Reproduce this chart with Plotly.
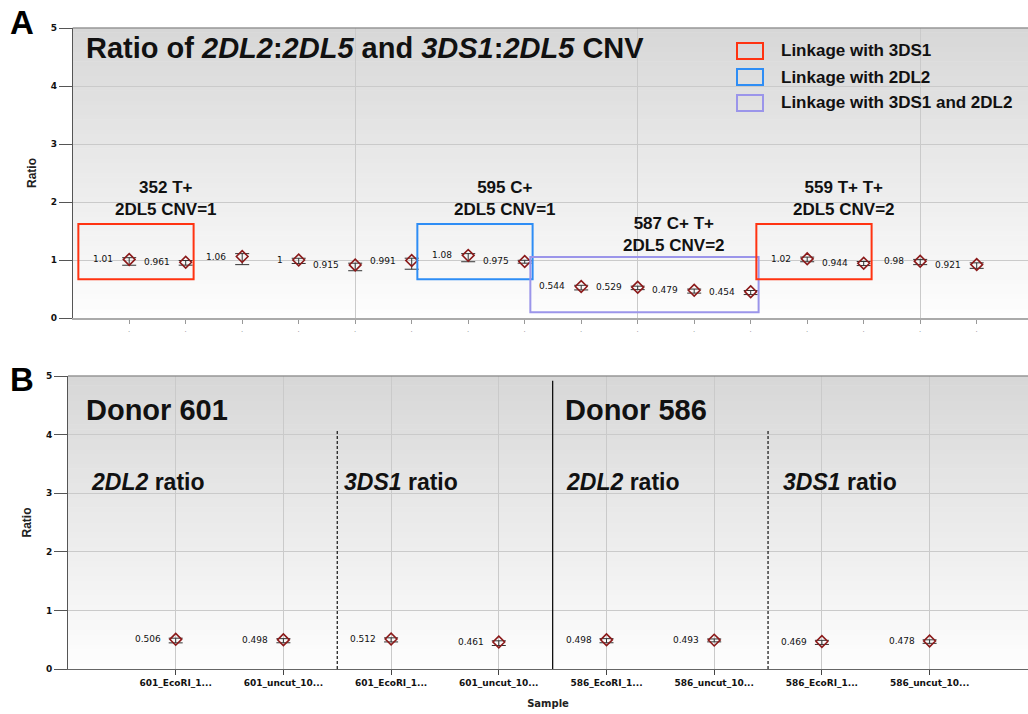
import plotly.graph_objects as go

# ---------------- data ----------------
# Panel A: ratio to 2DL5 for each sample (left to right)
ratio_a = [1.01, 0.961, 1.06, 1.0, 0.915, 0.991, 1.08, 0.975,
           0.544, 0.529, 0.479, 0.454, 1.02, 0.944, 0.98, 0.921]
err_hi_a = [0.03, 0.03, 0.05, 0.03, 0.03, 0.04, 0.03, 0.02,
            0.02, 0.02, 0.02, 0.02, 0.03, 0.03, 0.03, 0.03]
err_lo_a = [0.10, 0.05, 0.14, 0.06, 0.10, 0.15, 0.11, 0.03,
            0.06, 0.04, 0.05, 0.05, 0.05, 0.04, 0.06, 0.065]
label_a = ["1.01", "0.961", "1.06", "1", "0.915", "0.991", "1.08", "0.975",
           "0.544", "0.529", "0.479", "0.454", "1.02", "0.944", "0.98", "0.921"]

# Sample groups in panel A: (label, first sample, last sample, linkage)
groups_a = [
    ("352 T+<br>2DL5 CNV=1", 1, 2, "3DS1"),
    ("595 C+<br>2DL5 CNV=1", 7, 8, "2DL2"),
    ("587 C+ T+<br>2DL5 CNV=2", 9, 12, "both"),
    ("559 T+ T+<br>2DL5 CNV=2", 13, 14, "3DS1"),
]
legend_items = [("3DS1", "Linkage with 3DS1"),
                ("2DL2", "Linkage with 2DL2"),
                ("both", "Linkage with 3DS1 and 2DL2")]

# Panel B: two donors, EcoRI-digested vs uncut
samples_b = ["601_EcoRI_1...", "601_uncut_10...", "601_EcoRI_1...", "601_uncut_10...",
             "586_EcoRI_1...", "586_uncut_10...", "586_EcoRI_1...", "586_uncut_10..."]
ratio_b = [0.506, 0.498, 0.512, 0.461, 0.498, 0.493, 0.469, 0.478]
err_hi_b = [0.02, 0.02, 0.02, 0.02, 0.02, 0.02, 0.02, 0.02]
err_lo_b = [0.06, 0.05, 0.05, 0.06, 0.05, 0.03, 0.05, 0.04]
label_b = ["0.506", "0.498", "0.512", "0.461", "0.498", "0.493", "0.469", "0.478"]

donors_b = ["Donor 601", "Donor 586"]
ratio_titles_b = ["<i>2DL2</i> ratio", "<i>3DS1</i> ratio",
                  "<i>2DL2</i> ratio", "<i>3DS1</i> ratio"]

# ---------------- style ----------------
W, H = 1028, 714
FONT = "Liberation Sans"
SMALL = "DejaVu Sans"
MARKER_COL = "#8b1a1a"
BOX_COL = {"3DS1": "#ff3311", "2DL2": "#2e8df5", "both": "#9b95ea"}
GRID = "#cacaca"

pos_a = list(range(1, len(ratio_a) + 1))
pos_b = list(range(1, len(ratio_b) + 1))


def px_x(v):
    return v / W


def px_y(v):
    return 1 - v / H


fig = go.Figure()

marker = dict(symbol="diamond-open", size=9, color=MARKER_COL,
              line=dict(width=1.6, color=MARKER_COL))

fig.add_trace(go.Scatter(
    x=pos_a, y=ratio_a, mode="markers", xaxis="x", yaxis="y",
    marker=marker,
    error_y=dict(type="data", symmetric=False, array=err_hi_a, arrayminus=err_lo_a,
                 color="#333333", thickness=1, width=7),
    showlegend=False, hoverinfo="x+y"))

fig.add_trace(go.Scatter(
    x=pos_b, y=ratio_b, mode="markers", xaxis="x2", yaxis="y2",
    marker=marker,
    error_y=dict(type="data", symmetric=False, array=err_hi_b, arrayminus=err_lo_b,
                 color="#333333", thickness=1, width=7),
    showlegend=False, hoverinfo="x+y"))

annotations = []
shapes = []

# value labels beside each point
for x, y, t in zip(pos_a, ratio_a, label_a):
    annotations.append(dict(x=x, y=y, xref="x", yref="y", text=t, showarrow=False,
                            xanchor="right", yanchor="middle", xshift=-14,
                            font=dict(family=SMALL, size=9, color="#111111")))
for x, y, t in zip(pos_b, ratio_b, label_b):
    annotations.append(dict(x=x, y=y, xref="x2", yref="y2", text=t, showarrow=False,
                            xanchor="right", yanchor="middle", xshift=-13,
                            font=dict(family=SMALL, size=9, color="#111111")))

# grey-to-white background gradient in both plot areas
N = 60
for xr, yr in (("x domain", "y domain"), ("x2 domain", "y2 domain")):
    for i in range(N):
        f = (i + 0.5) / N          # 0 at bottom, 1 at top
        g = int(round(254 - f * (254 - 215)))
        shapes.append(dict(type="rect", xref=xr, yref=yr, x0=0, x1=1,
                           y0=i / N, y1=(i + 1) / N + 0.002,
                           fillcolor=f"rgb({g},{g},{g})", line=dict(width=0),
                           layer="below"))

# top frame lines
for xr, yr in (("x domain", "y domain"), ("x2 domain", "y2 domain")):
    shapes.append(dict(type="line", xref=xr, yref=yr, x0=0, x1=1, y0=1, y1=1,
                       line=dict(color="#777777", width=1)))

# group boxes and their labels in panel A
box_top, box_bot = 1.62, 0.67
for text, first, last, link in groups_a:
    if link == "both":
        y0, y1, ly = 0.10, 1.05, 1.44
    else:
        y0, y1, ly = box_bot, box_top, 2.06
    shapes.append(dict(type="rect", xref="x", yref="y",
                       x0=first - 0.9, x1=last + 0.14, y0=y0, y1=y1,
                       line=dict(color=BOX_COL[link], width=2)))
    annotations.append(dict(x=(first + last) / 2 + 0.15, y=ly, xref="x", yref="y",
                            text=f"<b>{text}</b>", showarrow=False,
                            xanchor="center", yanchor="middle",
                            font=dict(family=FONT, size=17, color="#111111")))

# legend drawn as outlined squares with text
for i, (link, text) in enumerate(legend_items):
    yc = 51 + i * 26
    shapes.append(dict(type="rect", xref="paper", yref="paper",
                       x0=px_x(737), x1=px_x(763), y0=px_y(yc + 8), y1=px_y(yc - 8),
                       line=dict(color=BOX_COL[link], width=2)))
    annotations.append(dict(x=px_x(779), y=px_y(yc), xref="paper", yref="paper",
                            text=f"<b>{text}</b>", showarrow=False,
                            xanchor="left", yanchor="middle",
                            font=dict(family=FONT, size=17, color="#111111")))

# panel A title
annotations.append(dict(x=px_x(84), y=px_y(48), xref="paper", yref="paper",
                        text="<b>Ratio of <i>2DL2</i>:<i>2DL5</i> and "
                             "<i>3DS1</i>:<i>2DL5</i> CNV</b>",
                        showarrow=False, xanchor="left", yanchor="middle",
                        font=dict(family=FONT, size=29, color="#111111")))

# panel letters
annotations.append(dict(x=px_x(8), y=px_y(22), xref="paper", yref="paper", text="<b>A</b>",
                        showarrow=False, xanchor="left", yanchor="middle",
                        font=dict(family=FONT, size=33, color="#000000")))
annotations.append(dict(x=px_x(8), y=px_y(379), xref="paper", yref="paper", text="<b>B</b>",
                        showarrow=False, xanchor="left", yanchor="middle",
                        font=dict(family=FONT, size=33, color="#000000")))

# panel B: donor separator and ratio separators
shapes.append(dict(type="line", xref="x2", yref="y2", x0=4.5, x1=4.5, y0=0, y1=4.92,
                   line=dict(color="#111111", width=1.3)))
for xv in (2.5, 6.5):
    shapes.append(dict(type="line", xref="x2", yref="y2", x0=xv, x1=xv, y0=0, y1=4.07,
                       line=dict(color="#111111", width=1.2, dash="3px,2px")))

for name, left in zip(donors_b, (84, 563)):
    annotations.append(dict(x=px_x(left), y=px_y(410), xref="paper", yref="paper",
                            text=f"<b>{name}</b>", showarrow=False,
                            xanchor="left", yanchor="middle",
                            font=dict(family=FONT, size=29, color="#111111")))
for name, left in zip(ratio_titles_b, (89, 342, 564, 781)):
    annotations.append(dict(x=px_x(left), y=px_y(482), xref="paper", yref="paper",
                            text=f"<b>{name}</b>", showarrow=False,
                            xanchor="left", yanchor="middle",
                            font=dict(family=FONT, size=23, color="#111111")))

# ---------------- axes ----------------
tickfont = dict(family=SMALL, size=9, color="#111111")
yaxis_common = dict(range=[0, 5], tickvals=[0, 1, 2, 3, 4, 5],
                    ticktext=["<b>0</b>", "<b>1</b>", "<b>2</b>", "<b>3</b>", "<b>4</b>", "<b>5</b>"],
                    showgrid=True, gridcolor=GRID, gridwidth=1,
                    zeroline=False, showline=True, linecolor="#555555", linewidth=1,
                    ticks="outside", ticklen=13, tickcolor="#555555",
                    tickfont=tickfont, fixedrange=True, automargin=False,
                    title=dict(text="<b>Ratio</b>", font=dict(family=FONT, size=12, color="#222222"),
                               standoff=11))

xa_left, xb_left = 72.7, 68.0
step_a, step_b = 56.5, 107.7

fig.update_layout(
    width=W, height=H,
    margin=dict(l=0, r=0, t=0, b=0, autoexpand=False),
    paper_bgcolor="white", plot_bgcolor="rgba(0,0,0,0)",
    xaxis=dict(domain=[px_x(xa_left), 1], range=[0, (W - xa_left) / step_a],
               tickvals=pos_a, ticktext=["·"] * len(pos_a),
               tickfont=dict(family=FONT, size=8, color="#888888"),
               ticks="outside", ticklen=4, tickcolor="#999999",
               showgrid=False, zeroline=False,
               showline=True, linecolor="#aaaaaa", linewidth=2,
               minor=dict(tickvals=[5, 10, 15], showgrid=True, gridcolor=GRID,
                          gridwidth=1, ticks=""),
               anchor="y", fixedrange=True, automargin=False),
    yaxis=dict(domain=[px_y(318), px_y(28)], anchor="x", **yaxis_common),
    xaxis2=dict(domain=[px_x(xb_left), 1], range=[0, (W - xb_left) / step_b],
                tickvals=pos_b, ticktext=[f"<b>{s}</b>" for s in samples_b],
                tickfont=dict(family=SMALL, size=9, color="#111111"),
                ticks="outside", ticklen=5, tickcolor="#444444",
                showgrid=True, gridcolor=GRID, gridwidth=1, zeroline=False,
                showline=True, linecolor="#666666", linewidth=1,
                title=dict(text="<b>Sample</b>", font=dict(family=SMALL, size=10, color="#222222"),
                           standoff=13),
                anchor="y2", fixedrange=True, automargin=False),
    yaxis2=dict(domain=[px_y(669), px_y(376)], anchor="x2", **yaxis_common),
    annotations=annotations,
    shapes=shapes,
)

fig.write_html("out.html")
